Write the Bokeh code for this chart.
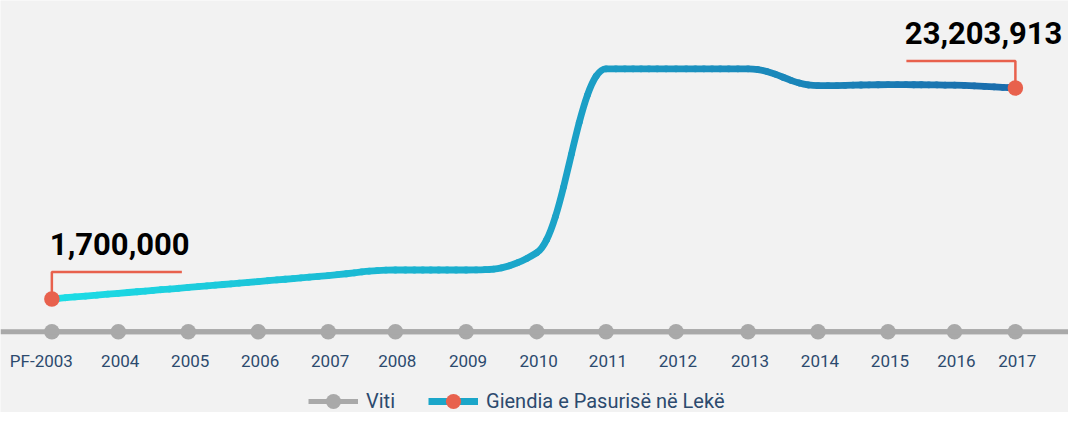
from bokeh.plotting import figure
from bokeh.models import Range1d, Span, Legend, LegendItem
from bokeh.core.properties import value
from bokeh.embed import file_html
from bokeh.resources import INLINE

# ---------------- data ----------------
years = ["PF-2003", "2004", "2005", "2006", "2007", "2008", "2009", "2010",
         "2011", "2012", "2013", "2014", "2015", "2016", "2017"]
# position of each declaration on the time axis (decimal years)
year_pos = [2003.05, 2004.0, 2005.0, 2006.0, 2007.0, 2007.96, 2008.97, 2009.98,
            2010.97, 2011.97, 2013.0, 2014.0, 2015.0, 2015.95, 2016.82]
wealth = [1700000, 2270000, 2870000, 3470000, 4080000, 4650000, 4650000, 6410000,
          25170000, 25170000, 25170000, 23450000, 23550000, 23500000, 23203913]
series_names = ["Viti", "Giendia e Pasurisë në Lekë"]

# ---------------- style ----------------
W, H = 1068, 412
BG = "#f2f2f2"
GRAY = "#a9a9a9"
RED = "#e8614d"
TXT = "#2c4a6e"
C_START = (28, 222, 230)
C_END = (26, 108, 172)
FONT = "Roboto"

X0, X1 = 2002.316, 2017.579
Y0, Y1 = -9886585, 32139334
AXIS_Y = -1640000
XU = (X1 - X0) / W   # data units per pixel
YU = (Y1 - Y0) / H

p = figure(width=W, height=H, output_backend="svg", toolbar_location=None,
           x_range=Range1d(X0, X1), y_range=Range1d(Y0, Y1),
           x_axis_type=None, y_axis_type=None, min_border=0,
           background_fill_color=BG, border_fill_color=BG, outline_line_color=None)
p.grid.visible = False

# ---------------- time axis row ----------------
p.add_layout(Span(location=AXIS_Y, dimension="width", line_color=GRAY, line_width=5))
axis_line = p.line(year_pos, [AXIS_Y] * len(years), line_color=GRAY, line_width=5)
axis_dots = p.scatter(year_pos, [AXIS_Y] * len(years), size=15.5, fill_color=GRAY, line_color=None)
p.text(year_pos, [AXIS_Y] * len(years), text=years, text_align="right",
       text_baseline="alphabetic", x_offset=21, y_offset=29, text_color=TXT,
       text_font=value(FONT), text_font_size="17px")

# ---------------- spline (Highcharts-like) ----------------
def spline_controls(xs, ys, smoothing=1.5):
    n = len(xs)
    denom = smoothing + 1
    lc = [(xs[i], ys[i]) for i in range(n)]
    rc = [(xs[i], ys[i]) for i in range(n)]
    for i in range(1, n - 1):
        px, py = xs[i], ys[i]
        lx, ly = xs[i - 1], ys[i - 1]
        nx, ny = xs[i + 1], ys[i + 1]
        lcx = (smoothing * px + lx) / denom
        lcy = (smoothing * py + ly) / denom
        rcx = (smoothing * px + nx) / denom
        rcy = (smoothing * py + ny) / denom
        if rcx != lcx:
            corr = (rcy - lcy) * (rcx - px) / (rcx - lcx) + py - rcy
            lcy += corr
            rcy += corr
        if lcy > ly and lcy > py:
            lcy = max(ly, py); rcy = 2 * py - lcy
        elif lcy < ly and lcy < py:
            lcy = min(ly, py); rcy = 2 * py - lcy
        if rcy > ny and rcy > py:
            rcy = max(ny, py); lcy = 2 * py - rcy
        elif rcy < ny and rcy < py:
            rcy = min(ny, py); lcy = 2 * py - rcy
        lc[i] = (lcx, lcy)
        rc[i] = (rcx, rcy)
    return lc, rc

def split(P, t0, t1):
    a, b, c, d = P
    def pt(t):
        mt = 1 - t
        return (mt**3*a[0] + 3*mt*mt*t*b[0] + 3*mt*t*t*c[0] + t**3*d[0],
                mt**3*a[1] + 3*mt*mt*t*b[1] + 3*mt*t*t*c[1] + t**3*d[1])
    def dpt(t):
        mt = 1 - t
        return (3*mt*mt*(b[0]-a[0]) + 6*mt*t*(c[0]-b[0]) + 3*t*t*(d[0]-c[0]),
                3*mt*mt*(b[1]-a[1]) + 6*mt*t*(c[1]-b[1]) + 3*t*t*(d[1]-c[1]))
    s, e = pt(t0), pt(t1)
    ds, de = dpt(t0), dpt(t1)
    h = (t1 - t0) / 3
    return s, (s[0] + ds[0]*h, s[1] + ds[1]*h), (e[0] - de[0]*h, e[1] - de[1]*h), e

lc, rc = spline_controls(year_pos, wealth)
bx0, by0, bx1, by1, bcx0, bcy0, bcx1, bcy1, bcol = [], [], [], [], [], [], [], [], []
K = 8
xmin, xmax = year_pos[0], year_pos[-1]
for i in range(1, len(year_pos)):
    P = ((year_pos[i-1], wealth[i-1]), rc[i-1], lc[i], (year_pos[i], wealth[i]))
    for k in range(K):
        s, c0, c1, e = split(P, k / K, (k + 1) / K)
        f = ((s[0] + e[0]) / 2 - xmin) / (xmax - xmin)
        col = tuple(round(C_START[j] + (C_END[j] - C_START[j]) * f) for j in range(3))
        bx0.append(s[0]); by0.append(s[1]); bx1.append(e[0]); by1.append(e[1])
        bcx0.append(c0[0]); bcy0.append(c0[1]); bcx1.append(c1[0]); bcy1.append(c1[1])
        bcol.append("#%02x%02x%02x" % col)

p.bezier(x0=bx0, y0=by0, x1=bx1, y1=by1, cx0=bcx0, cy0=bcy0, cx1=bcx1, cy1=bcy1,
         line_color=bcol, line_width=6.8, line_cap="round")

# ---------------- callouts ----------------
xa, ya = year_pos[0], wealth[0]
xb, yb = year_pos[-1], wealth[-1]
p.multi_line(xs=[[xa, xa, xa + 130 * XU], [xb, xb, xb - 109 * XU]],
             ys=[[ya, ya + 27 * YU, ya + 27 * YU], [yb, yb + 27 * YU, yb + 27 * YU]],
             line_color=RED, line_width=2.5)
ends = p.scatter([xa, xb], [ya, yb], size=15.5, fill_color=RED, line_color=None)
p.text([xa], [ya], text=[f"{wealth[0]:,}"], text_align="left", text_baseline="alphabetic",
       x_offset=-2, y_offset=-55, text_font=value(FONT), text_font_style="bold",
       text_font_size="31px", text_color="#000000")
p.text([xb], [yb], text=[f"{wealth[-1]:,}"], text_align="right", text_baseline="alphabetic",
       x_offset=47, y_offset=-55, text_font=value(FONT), text_font_style="bold",
       text_font_size="31px", text_color="#000000")

# ---------------- legend ----------------
legend_line = p.line([float("nan")], [float("nan")], line_color="#1ba6c9", line_width=6.8)
legend = Legend(items=[LegendItem(label=series_names[0], renderers=[axis_line, axis_dots]),
                       LegendItem(label=series_names[1], renderers=[legend_line, ends])],
                location=(308, -7.5), orientation="horizontal", glyph_width=50, glyph_height=38,
                label_standoff=8, spacing=33, padding=0, margin=0,
                border_line_color=None, background_fill_alpha=0,
                label_text_font=FONT, label_text_font_size="20px", label_text_color=TXT)
p.add_layout(legend)

open("out.html", "w").write(file_html(p, INLINE))
